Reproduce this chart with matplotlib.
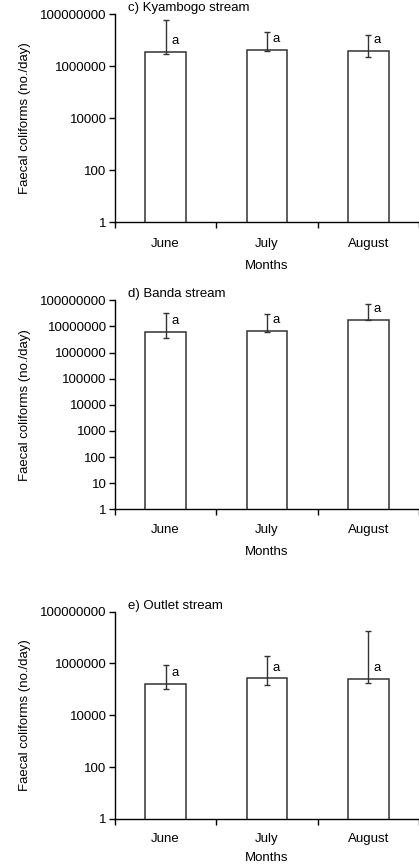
import matplotlib
matplotlib.use("Agg")
import matplotlib.pyplot as plt
import numpy as np

plt.rcParams['font.family'] = ['Liberation Sans', 'DejaVu Sans']
plt.rcParams['font.size'] = 9.5

months = ['June', 'July', 'August']

# c) Kyambogo stream
kyambogo_mean = [3.5e6, 4.2e6, 3.9e6]
kyambogo_low = [2.8e6, 3.8e6, 2.3e6]
kyambogo_high = [6.0e7, 2.0e7, 1.55e7]
kyambogo_letters = ['a', 'a', 'a']

# d) Banda stream
banda_mean = [6.3e6, 6.8e6, 1.8e7]
banda_low = [3.5e6, 6.0e6, 1.7e7]
banda_high = [3.2e7, 2.95e7, 7.1e7]
banda_letters = ['a', 'a', 'a']

# e) Outlet stream
outlet_mean = [1.65e5, 2.7e5, 2.55e5]
outlet_low = [1.05e5, 1.5e5, 1.8e5]
outlet_high = [8.5e5, 2.0e6, 1.8e7]
outlet_letters = ['a', 'a', 'a']

# title, data, y ticks, [bottom, height], (tick pad, label pad)
panels = [
    ('c) Kyambogo stream', kyambogo_mean, kyambogo_low, kyambogo_high, kyambogo_letters,
     [1, 1e2, 1e4, 1e6, 1e8], [0.7436, 0.2402], (11.5, 7.5)),
    ('d) Banda stream', banda_mean, banda_low, banda_high, banda_letters,
     [10.0 ** k for k in range(9)], [0.4119, 0.2413], (10.5, 7)),
    ('e) Outlet stream', outlet_mean, outlet_low, outlet_high, outlet_letters,
     [1, 1e2, 1e4, 1e6, 1e8], [0.0543, 0.2394], (10, 5)),
]

fig = plt.figure(figsize=(4.19, 8.66), dpi=100)
edge = '#333333'

for title, mean, low, high, letters, yticks, (bot, h), (tpad, lpad) in panels:
    ax = fig.add_axes([0.2745, bot, 0.7255, h])
    x = np.arange(len(months))
    mean = np.array(mean)
    yerr = [mean - np.array(low), np.array(high) - mean]
    ax.bar(x, mean, width=0.4, color='white', edgecolor=edge, linewidth=1.1, zorder=2)
    ax.errorbar(x, mean, yerr=yerr, fmt='none', ecolor=edge, elinewidth=1.0,
                capsize=2, capthick=1.0, zorder=3)
    for xi, m, lt in zip(x, mean, letters):
        ax.annotate(lt, xy=(xi, m), xytext=(4, 7.5), textcoords='offset points',
                    ha='left', va='center', fontsize=9.5)

    ax.set_yscale('log')
    ax.set_ylim(1, 1e8)
    ax.set_xlim(-0.5, 2.5)
    ax.set_yticks(yticks)
    ax.set_yticklabels(['%d' % v for v in yticks])
    ax.minorticks_off()
    ax.set_xticks(x)
    ax.set_xticklabels(months)
    ax.set_xticks([-0.5, 0.5, 1.5, 2.5], minor=True)
    ax.tick_params(axis='x', which='major', length=0, pad=tpad)
    ax.tick_params(axis='x', which='minor', length=4, width=1, direction='out')
    ax.tick_params(axis='y', length=4, width=1, direction='out', pad=2)

    ax.spines['top'].set_visible(False)
    ax.spines['right'].set_visible(False)
    for s in ('left', 'bottom'):
        ax.spines[s].set_linewidth(1.0)
        ax.spines[s].set_color('black')

    ax.set_xlabel('Months', labelpad=lpad)
    ax.set_ylabel('Faecal coliforms (no./day)')
    ax.yaxis.set_label_coords(-0.275, 0.5)
    ax.text(0.042, 1.0, title, transform=ax.transAxes, ha='left', va='bottom',
            fontsize=9.5)

fig.savefig('out.png', dpi=100)
